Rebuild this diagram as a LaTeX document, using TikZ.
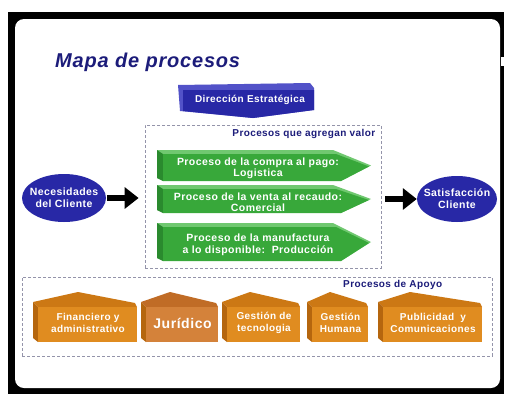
\documentclass[tikz,border=0pt]{standalone}
\usepackage{fontspec}
\setmainfont{Liberation Sans}[LetterSpace=4]
\usepackage{tikz}
\usetikzlibrary{arrows.meta,shapes.geometric}
\definecolor{navy}{HTML}{1C1C7A}
\definecolor{ovalblue}{HTML}{2828A6}
\definecolor{dirtop}{HTML}{5252C8}
\definecolor{greenfront}{HTML}{38A83A}
\definecolor{greentop}{HTML}{70C870}
\definecolor{greenside}{HTML}{2A8A2E}
\definecolor{orangefront}{HTML}{E08C20}
\definecolor{orangetop}{HTML}{CC7814}
\definecolor{orangeside}{HTML}{B5660E}
\definecolor{jurfront}{HTML}{D4823A}
\definecolor{jurtop}{HTML}{C06C26}
\definecolor{dashgrey}{HTML}{9494AA}
\newcommand\procarrow[4]{%
	\fill[greentop] (157,#2) -- (333,#2) -- (371,{(#2+#3)/2}) -- (341,#3) -- (157,{#3-3}) -- cycle;
	\fill[greenside] (157,#2) -- (163,{#2+4}) -- (163,#3) -- (157,{#3-3}) -- cycle;
	\fill[greenfront] (163,{#2+4}) -- (336,{#2+4}) -- (369,{(#2+#3)/2+1}) -- (341,#3) -- (163,#3) -- cycle;
	\node[proctext] (#1) at (258,{(#2+#3)/2+3}) {#4};}
\newcommand\supportbox[6]{%
	\fill[#5top] (#2,302) -- (#3,292) -- ({#4-2},303) -- (#4,307) -- ({#2+5},307) -- cycle;
	\fill[orangeside] (#2,302) -- ({#2+5},307) -- ({#2+5},342) -- (#2,338) -- cycle;
	\fill[#5front] ({#2+5},307) rectangle (#4,342);
	\node[supporttext] (#1) at ({(#2+#4)/2+3},323) {#6};}

\begin{document}
\begin{tikzpicture}[x=1pt, y=-1pt,
	groupbox/.style={draw=dashgrey, line width=0.8pt, dash pattern=on 3pt off 2pt, inner sep=0pt},
	grouplabel/.style={text=navy, font=\bfseries\fontsize{10}{12}\selectfont, inner sep=0pt},
	blueoval/.style={ellipse, fill=ovalblue, inner sep=0pt},
	ovaltext/.style={text=white, font=\bfseries\fontsize{10.5}{12}\selectfont, align=center, inner sep=0pt},
	proctext/.style={text=white, font=\bfseries\fontsize{10.5}{11.5}\selectfont, align=center, inner sep=0pt},
	supporttext/.style={text=white, font=\bfseries\fontsize{10}{11.5}\selectfont, align=center, inner sep=0pt},
	bigarrow/.style={line width=6.5pt, -{Triangle[length=14pt,width=21pt]}}]
		%%%%% START %%%%%
		\useasboundingbox (0,0) rectangle (510,407);
		
		\fill[black] (8,12) rectangle (504,394);
		\fill[white, rounded corners=9pt] (15,19) rectangle (500,388);
		\fill[white] (501,57) rectangle (510,66);
		
		\node[text=navy, font=\bfseries\itshape\fontsize{20}{24}\selectfont, anchor=base west, inner sep=0pt] (titulo) at (55,67) {Mapa de procesos};
		
		\fill[dirtop] (178,85) -- (310,83) -- (314,88) -- (314,110) -- (253,118) -- (180,111) -- cycle;
		\fill[ovalblue] (183,90) -- (314,90) -- (314,110) -- (253,118) -- (183,111) -- cycle;
		\node[proctext, font=\bfseries\fontsize{10}{12}\selectfont] (dir) at (250,100) {Dirección Estratégica};
		
		\node[groupbox, minimum width=236pt, minimum height=143pt] (valor) at (263,196.5) {};
		\node[grouplabel, anchor=north east] (valorlbl) at ([xshift=-6pt, yshift=-4pt]valor.north east) {Procesos que agregan valor};
		
		\procarrow{compra}{150}{181}{Proceso de la compra al pago:\\Logistica}
		\procarrow{venta}{185}{213}{Proceso de la venta al recaudo:\\Comercial}
		\procarrow{manuf}{223}{261}{Proceso de la manufactura\\a lo disponible:\ \ Producción}
		
		\node[blueoval, minimum width=84pt, minimum height=48pt] (nec) at (64,198) {};
		\node[ovaltext] (nectxt) at (nec) {Necesidades\\del Cliente};
		\node[blueoval, minimum width=80pt, minimum height=46pt] (sat) at (457,199) {};
		\node[ovaltext] (sattxt) at (sat) {Satisfacción\\Cliente};
		
		\draw[bigarrow] ([xshift=1pt]nec.east) -- ([xshift=-6pt]nec.east -| valor.west);
		\draw[bigarrow] ([xshift=4pt]valor.east |- sat.west) -- (sat.west);
		
		\node[groupbox, minimum width=470pt, minimum height=79pt] (apoyo) at (257,316.5) {};
		\node[grouplabel, anchor=north east] (apoyolbl) at ([xshift=-50pt, yshift=-3pt]apoyo.north east) {Procesos de Apoyo};
		
		\supportbox{finan}{33}{78}{137}{orange}{Financiero y\\administrativo}
		\supportbox{jur}{141}{170}{218}{jur}{\fontsize{14}{16}\selectfont Jurídico}
		\supportbox{tecno}{222}{250}{300}{orange}{Gestión de\\tecnologia}
		\supportbox{humana}{307}{330}{368}{orange}{Gestión\\Humana}
		\supportbox{public}{378}{410}{482}{orange}{Publicidad\ \ y\\Comunicaciones}
		
		%%%%% END %%%%%
	\end{tikzpicture}
\end{document}
